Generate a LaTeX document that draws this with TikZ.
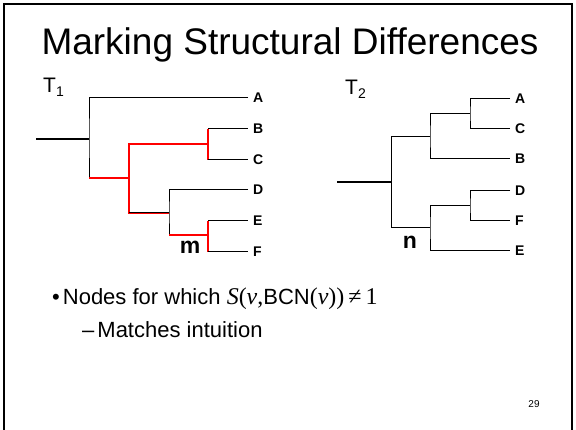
\documentclass[tikz,border=0pt]{standalone}
\usepackage{fontspec}
\setmainfont{Liberation Sans}
\newfontfamily\tms{Liberation Serif}

\tikzset{
    leaf/.style={anchor=west, inner xsep=5pt, inner ysep=0pt, text height=10pt, text depth=0pt,
        font=\bfseries\fontsize{14}{14}\selectfont},
    br/.style={line width=1pt},
    stem/.style={line width=1.8pt},
    hit/.style={line width=2pt, red},
    tlab/.style={anchor=base west, inner sep=0pt, font=\fontsize{21}{21}\selectfont},
    tipmark/.style={inner sep=0pt, font=\bfseries\fontsize{23}{23}\selectfont},
    line/.style={anchor=base west, inner sep=0pt, font=\fontsize{22}{22}\selectfont},
}

\begin{document}
\begin{tikzpicture}[x=1pt,y=-1pt]
    \useasboundingbox (0,0) rectangle (576,430);
    \draw[line width=2pt] (4,430) -- (4,4) -- (572,4) -- (572,430);
    \node[anchor=base, inner sep=0pt, font=\fontsize{37}{37}\selectfont] (title) at (290,55) {Marking Structural Differences};

    % T1
    \node[tlab] (t1) at (43,93) {T\raisebox{-4pt}{\fontsize{14}{14}\selectfont 1}};
    \coordinate (r1) at (36,139);
    \coordinate (a1) at (89,139);
    \coordinate (p1) at (129,178);
    \coordinate (q1) at (208,144);
    \coordinate (s1) at (169,213);
    \coordinate (m1) at (208,235);
    \node[leaf] (A1) at (248,98)  {A};
    \node[leaf] (B1) at (248,129) {B};
    \node[leaf] (C1) at (248,160) {C};
    \node[leaf] (D1) at (248,190) {D};
    \node[leaf] (E1) at (248,221) {E};
    \node[leaf] (F1) at (248,252) {F};
    \draw[stem] (r1) -- (a1);
    \draw[br] (A1.west) -| (a1) |- (p1);
    \draw[hit] (a1 |- p1) -- (p1);
    \draw[hit] (q1) -| (p1) |- (s1);
    \draw[br] (p1 |- s1) -- (s1);
    \draw[hit] (q1 |- B1) -- (q1 |- C1);
    \draw[br] (q1 |- B1) -- (B1.west);
    \draw[br] (q1 |- C1) -- (C1.west);
    \draw[br] (D1.west) -| (s1) |- (m1);
    \draw[hit] (s1 |- m1) -- (m1);
    \draw[hit] (m1 |- E1) -- (m1 |- F1);
    \draw[br] (m1 |- E1) -- (E1.west);
    \draw[br] (m1 |- F1) -- (F1.west);
    \node[tipmark] (m) at (190,247) {m};

    % T2
    \node[tlab] (t2) at (345,95) {T\raisebox{-4pt}{\fontsize{14}{14}\selectfont 2}};
    \coordinate (r2) at (337,182);
    \coordinate (a2) at (391,182);
    \coordinate (u2) at (430,137);
    \coordinate (v2) at (470,114);
    \coordinate (n2) at (430,228);
    \coordinate (w2) at (470,206);
    \node[leaf] (A2) at (510,99)  {A};
    \node[leaf] (C2) at (510,129) {C};
    \node[leaf] (B2) at (510,159) {B};
    \node[leaf] (D2) at (510,191) {D};
    \node[leaf] (F2) at (510,221) {F};
    \node[leaf] (E2) at (510,251) {E};
    \draw[stem] (r2) -- (a2);
    \draw[br] (u2) -| (a2 |- u2) -- (a2 |- n2) -- (n2);
    \draw[br] (v2) -| (u2) |- (B2.west);
    \draw[br] (A2.west) -| (v2) |- (C2.west);
    \draw[br] (w2) -| (n2) |- (E2.west);
    \draw[br] (D2.west) -| (w2) |- (F2.west);
    \node[tipmark] (n) at (410,242) {n};

    % text
    \node[line] (pt1) at (52,305)
        {•\hspace{3pt}Nodes for which {\tms\fontsize{24}{24}\selectfont\itshape S\/\upshape(\itshape v\/\upshape,}BCN{\tms\fontsize{24}{24}\selectfont(\itshape v\/\upshape))\,≠\,1}};
    \node[line] (pt2) at (82,338) {–\hspace{3pt}Matches intuition};
    \node[inner sep=0pt, font=\fontsize{10}{10}\selectfont] (pg) at (534,404) {29};
\end{tikzpicture}
\end{document}
